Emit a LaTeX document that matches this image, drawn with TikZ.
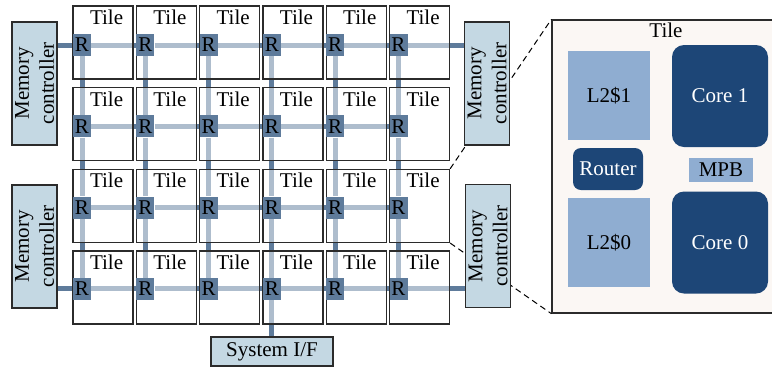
\documentclass[tikz,border=0pt]{standalone}
\usepackage{fontspec}
\setmainfont{Liberation Serif}
\usetikzlibrary{backgrounds}
\definecolor{linkblue}{HTML}{5E7B9B}
\definecolor{mcblue}{HTML}{C4D8E3}
\definecolor{cacheblue}{HTML}{8FADD1}
\definecolor{coreblue}{HTML}{1D4677}
\definecolor{zoomfill}{HTML}{FBF7F4}
\definecolor{edgegray}{HTML}{2B2B2B}

\begin{document}
\begin{tikzpicture}
	[
	x=1pt, y=-1pt,
	font=\fontsize{21}{25}\selectfont,
	tile/.style={draw = edgegray, line width = 1.3pt, fill = white, fill opacity = 0.5, text opacity = 1, minimum width = 60pt, minimum height = 73pt, inner sep = 0pt},
	rt/.style={fill = linkblue, minimum width = 18pt, minimum height = 22pt, inner sep = 0pt},
	mc/.style={draw = edgegray, line width = 1.3pt, fill = mcblue, rotate = 90, align = center, minimum width = 123pt, minimum height = 45pt, inner sep = 0pt},
	link/.style={draw = linkblue, line width = 5pt},
	cache/.style={fill = cacheblue, minimum width = 82pt, minimum height = 89pt},
	core/.style={fill = coreblue, text = white, rounded corners = 12pt, minimum width = 96pt, minimum height = 102pt}
	]
	\useasboundingbox (0,0) rectangle (772,368);
	
	% mesh of tiles with their routers
	\foreach \i in {1,...,6}
		\foreach \j in {1,...,4}
		{
			\node[tile, label={[anchor=north east, xshift=-7pt, yshift=-1pt]north east:Tile}](t\i\j) at ({103+63.3*(\i-1)}, {42.5+81.7*(\j-1)}){};
			\node[rt](r\i\j) at ({82+63.3*(\i-1)}, {45+81.3*(\j-1)}){R};
		}
	
	% zoomed tile
	\node[draw = edgegray, line width = 1.3pt, fill = zoomfill, minimum width = 222pt, minimum height = 293pt, inner sep = 0pt](zoom) at (663, 166.5){};
	\node[](ztitle) at (666, 30){Tile};
	\node[cache](l21) at (609, 95.5){L2\$1};
	\node[core](c1) at (720, 96){Core 1};
	\node[fill = coreblue, text = white, rounded corners = 8pt, minimum width = 70pt, minimum height = 42pt, inner sep = 0pt](router) at (608, 169){Router};
	\node[fill = cacheblue, minimum width = 64pt, minimum height = 24pt, inner sep = 0pt](mpb) at (721, 170){MPB};
	\node[cache](l20) at (609, 242.5){L2\$0};
	\node[core](c0) at (720, 242.5){Core 0};
	
	\draw[dash pattern = on 6pt off 4pt, line width = 1pt](t63.north east) -- (zoom.north west);
	\draw[dash pattern = on 6pt off 4pt, line width = 1pt](t63.south east) -- (zoom.south west);
	
	% memory controllers and system interface
	\node[mc](mcl1) at (34.5, 83.5){Memory\\controller};
	\node[mc](mcl2) at (34.5, 246.5){Memory\\controller};
	\node[mc](mcr1) at (487, 83.5){Memory\\controller};
	\node[mc](mcr2) at (488, 246){Memory\\controller};
	\node[draw = edgegray, line width = 1.3pt, fill = mcblue, minimum width = 122pt, minimum height = 29pt, inner sep = 0pt](sysif) at (272, 351.5){System I/F};
	
	\begin{scope}[on background layer]
		\foreach \j in {1,...,4}
			\foreach \i [count=\k from 2] in {1,...,5}
				\draw[link](r\i\j) -- (r\k\j);
		\foreach \i in {1,...,6}
			\foreach \j [count=\k from 2] in {1,...,3}
				\draw[link](r\i\j) -- (r\i\k);
		\draw[link](r11) -- (r11 -| mcl1.center);
		\draw[link](r14) -- (r14 -| mcl2.center);
		\draw[link](r61) -- (r61 -| mcr1.center);
		\draw[link](r64) -- (r64 -| mcr2.center);
		\draw[link](r44) -- (r44 |- sysif.center);
	\end{scope}
\end{tikzpicture}
\end{document}
